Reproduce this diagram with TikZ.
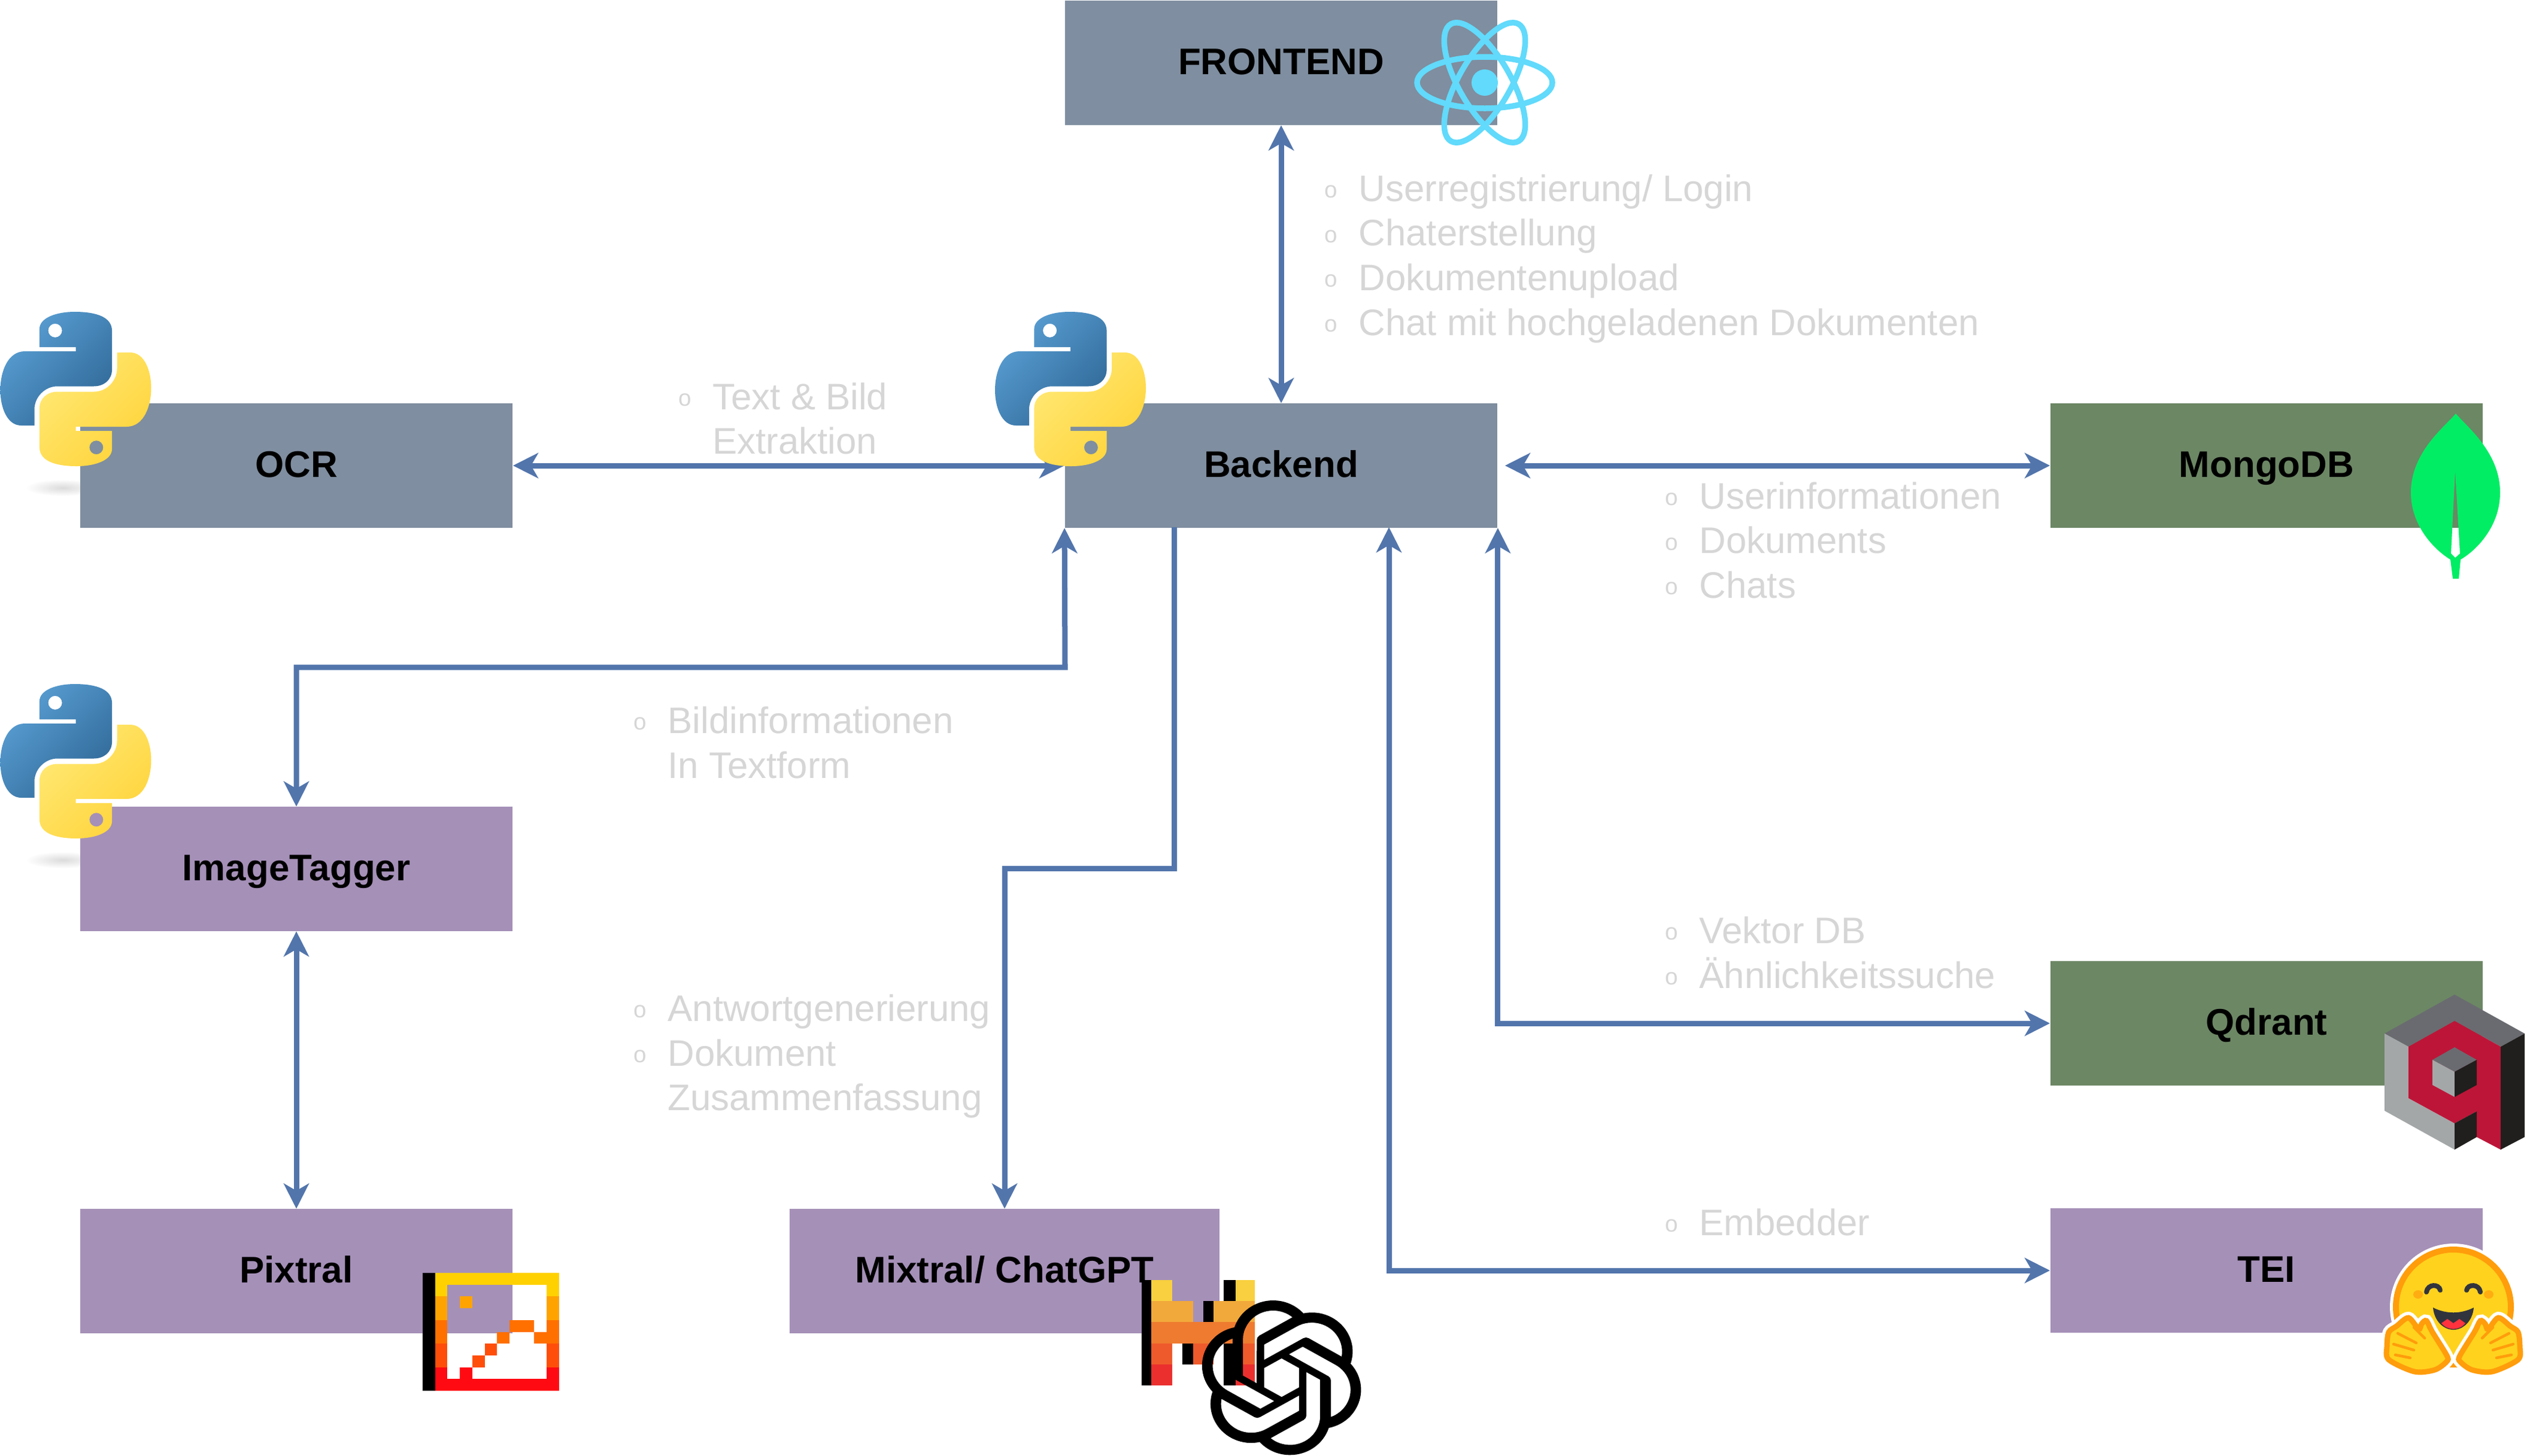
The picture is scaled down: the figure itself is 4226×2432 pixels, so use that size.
\documentclass[tikz,border=0pt]{standalone}
\usepackage{fontspec}
\setmainfont{Liberation Sans}
\usetikzlibrary{arrows.meta,svg.path}
\definecolor{greybox}{HTML}{7F8EA0}
\definecolor{purplebox}{HTML}{A590B8}
\definecolor{greenbox}{HTML}{6C8764}
\definecolor{linkblue}{HTML}{5275AC}
\definecolor{reactblue}{HTML}{61DAFB}
\definecolor{leafgreen}{HTML}{00ED64}
\definecolor{qdark}{HTML}{201F1D}
\definecolor{qgrey}{HTML}{6A6B70}
\definecolor{qlight}{HTML}{A4A7A8}
\definecolor{qred}{HTML}{BD1538}
\definecolor{hugyellow}{HTML}{FFD21E}
\definecolor{hugorange}{HTML}{FF9D0B}
\definecolor{hugdark}{HTML}{32343D}
\definecolor{hugred}{HTML}{FF323D}
\definecolor{pyblueA}{HTML}{5A9FD4}
\definecolor{pyblueB}{HTML}{306998}
\definecolor{pyyellowA}{HTML}{FFE873}
\definecolor{pyyellowB}{HTML}{FFD43B}
\newcommand{\bul}{\makebox[0.57cm][l]{\raisebox{1.6pt}{\fontsize{11}{11}\selectfont o}}}
\newcommand{\nobul}{\makebox[0.57cm][l]{}}
\tikzset{
  block/.style={minimum width=7.22cm,minimum height=2.07cm,inner sep=0pt,text=black,
    text height=0.43cm,text depth=0.05cm,font=\fontsize{17.6}{21}\selectfont\bfseries},
  greyblock/.style={block,fill=greybox},
  purpleblock/.style={block,fill=purplebox},
  greenblock/.style={block,fill=greenbox},
  link/.style={draw=linkblue,line width=0.09cm,
    {Stealth[length=0.42cm,width=0.42cm,inset=0.12cm]}-{Stealth[length=0.42cm,width=0.42cm,inset=0.12cm]}},
  linkto/.style={draw=linkblue,line width=0.09cm,
    -{Stealth[length=0.42cm,width=0.42cm,inset=0.12cm]}},
  note/.style={anchor=north west,inner sep=0pt,align=left,text=black!16,
    font=\fontsize{17.55}{21.2}\selectfont},
  pics/pylogo/.style={code={
    \def\snake{(-60.6,-70) -- (-60.6,-100) .. controls (-60.6,-120) and (-30,-129) .. (-2,-129)
      .. controls (35,-129) and (60.6,-120) .. (60.6,-97) -- (60.6,-33)
      .. controls (60.6,-15) and (47,-4.5) .. (30,-4.5) -- (-30.6,-4.5)
      .. controls (-52,-4.5) and (-69,14) .. (-69,34) -- (-69,61) -- (-91,61)
      .. controls (-115,61) and (-126,30) .. (-126,2)
      .. controls (-126,-30) and (-113,-63) .. (-85,-63) -- (0,-63) -- (0,-70) -- cycle
      (-34.4,-97.7) circle (11.5)}
    \shade[even odd rule,top color=pyblueA,bottom color=pyblueB,shading angle=45] \snake;
    \begin{scope}[rotate=180]
      \shade[even odd rule,top color=pyyellowA,bottom color=pyyellowB,shading angle=45] \snake;
    \end{scope}
  }},
  pics/hughand/.style={code={
    \def\hand{plot[smooth cycle] coordinates {(-11,81) (-35,42) (-45,23) (-53,28) (-58,37) (-75,18)
      (-95,32) (-108,42) (-111,66) (-108,88) (-65,108) (-31,105) (-11,91)}}
    \draw[white,line width=0.2cm] \hand;
    \draw[hugorange,fill=hugyellow,line width=0.09cm] \hand;
    \draw[hugorange,line width=0.045cm,line cap=round] (-93,44) -- (-62,60) (-100,62) -- (-66,72) (-97,80) -- (-72,85) (-66,34) -- (-48,52) (-42,34) -- (-33,46);
  }}
}
\begin{document}
\begin{tikzpicture}[x=0.01cm,y=-0.01cm]
  \useasboundingbox (0,0) rectangle (4226,2432);
  \foreach \y in {815,1437} {
    \shade[inner color=black!14,outer color=white] (105,\y) ellipse (62 and 14);
  }
  \node[greyblock] (frontend) at (2140,105) {FRONTEND};
  \node[greyblock] (backend) at (2140,778) {Backend};
  \node[greyblock] (ocr) at (495,778) {OCR};
  \node[purpleblock] (imagetagger) at (495,1452) {ImageTagger};
  \node[purpleblock] (pixtral) at (495,2124) {Pixtral};
  \node[purpleblock,minimum width=7.18cm] (mixtral) at (1678,2124) {Mixtral/ ChatGPT};
  \node[greenblock] (mongodb) at (3786,778) {MongoDB};
  \node[greenblock] (qdrant) at (3786,1710) {Qdrant};
  \node[purpleblock] (tei) at (3786,2123) {TEI};

  \coordinate (tagbend) at (1779,1115);
  \coordinate (gptport) at (1961,881);
  \coordinate (gptbend) at (1961,1451);
  \coordinate (teiport) at (2320,881);
  \draw[link] (frontend.south) -- (backend.north);
  \draw[link] (ocr.east) -- (backend.west);
  \draw[link,shorten <=0.12cm] (backend.east) -- (mongodb.west);
  \draw[link] (backend.south west) -- (tagbend) -| (imagetagger.north);
  \draw[link] (imagetagger.south) -- (pixtral.north);
  \draw[linkto] (gptport) -- (gptbend) -| (mixtral.north);
  \draw[link] (teiport) |- (tei.west);
  \draw[link] (backend.south east) |- (qdrant.west);

  \node[note] (frontnote) at (2212,291) {\bul Userregistrierung/ Login\\\bul Chaterstellung\\\bul Dokumentenupload\\\bul Chat mit hochgeladenen Dokumenten};
  \node[note] (ocrnote) at (1133,639) {\bul Text \& Bild\\\nobul Extraktion};
  \node[note] (mongonote) at (2781,805) {\bul Userinformationen\\\bul Dokuments\\\bul Chats};
  \node[note] (tagnote) at (1058,1180) {\bul Bildinformationen\\\nobul In Textform};
  \node[note] (gptnote) at (1058,1661) {\bul Antwortgenerierung\\\bul Dokument\\\nobul Zusammenfassung};
  \node[note] (qdrantnote) at (2781,1531) {\bul Vektor DB\\\bul Ähnlichkeitssuche};
  \node[note] (teinote) at (2781,2019) {\bul Embedder};

  % logos
  \foreach \x/\y in {126.5/650,1788/650,126.5/1272} {
    \pic at (\x,\y) {pylogo};
  }
  \foreach \a in {0,60,120} {
    \draw[reactblue,line width=0.095cm] (2480,138) ellipse [x radius=113,y radius=43,rotate=\a];
  }
  \fill[reactblue] (2480,138) circle (22);
  % leaf
  \fill[leafgreen,even odd rule] (4102,691) .. controls (4085,712) and (4027,755) .. (4027,823)
    .. controls (4027,880) and (4068,920) .. (4093,935) -- (4097,967) -- (4107,967) -- (4110,935)
    .. controls (4136,920) and (4176,880) .. (4176,823) .. controls (4176,755) and (4119,712) .. (4102,691) -- cycle
    (4101,787) -- (4094,925) -- (4101,932) -- (4109,925) -- cycle;
  % qdrant
  \fill[qgrey] (3983,1727) -- (4100,1662) -- (4217,1727) -- (4177,1749) -- (4100,1706) -- (4023,1749) -- cycle;
  \fill[qlight] (3983,1727) -- (4023,1749) -- (4023,1835) -- (4100,1877) -- (4100,1921) -- (3983,1856) -- cycle;
  \fill[qred] (4023,1749) -- (4100,1706) -- (4177,1749) -- (4177,1921) -- (4137,1900) -- (4137,1857) -- (4100,1877) -- (4023,1835) -- cycle;
  \fill[qdark] (4177,1749) -- (4217,1727) -- (4217,1900) -- (4177,1921) -- cycle;
  \fill[qdark] (4100,1877) -- (4137,1857) -- (4137,1900) -- (4100,1921) -- cycle;
  \fill[qgrey] (4063,1771) -- (4100,1750) -- (4137,1771) -- (4100,1791) -- cycle;
  \fill[qlight] (4063,1771) -- (4100,1791) -- (4100,1833) -- (4063,1813) -- cycle;
  \fill[qdark] (4100,1791) -- (4137,1771) -- (4137,1813) -- (4100,1833) -- cycle;
  % hugging face
  \begin{scope}[shift={(4098,2184)}]
    \fill[white] (0,0) circle (106);
    \draw[hugorange,fill=hugyellow,line width=0.1cm] (0,0) circle (96);
    \foreach \s in {1,-1} {
      \begin{scope}[xscale=\s]
        \fill[hugorange!70!hugyellow] (-59,-21) ellipse (8 and 7);
        \draw[hugdark,line width=0.08cm,line cap=round] (-45,-25) .. controls (-43,-39) and (-24,-39) .. (-22,-28);
        \pic[transform shape] {hughand};
      \end{scope}
    }
    \fill[hugdark] (-34,1) .. controls (-12,12) and (12,12) .. (34,1) .. controls (32,24) and (16,38) .. (0,38) .. controls (-16,38) and (-32,24) .. (-34,1) -- cycle;
    \fill[hugred] (-20,27) -- (-10,20) -- (0,27) -- (10,20) -- (20,27) .. controls (10,40) and (-10,40) .. (-20,27) -- cycle;
  \end{scope}
  % pixtral pixels
  \begin{scope}[shift={(706,2127)},x=0.207cm,y=-0.197cm]
    \fill[black] (0,0) rectangle (1,10);
    \foreach \xa/\ya/\xb/\yb/\col in {1/0/11/1/FFD100,1/1/2/2/FFD100,10/1/11/2/FFD100,
        1/2/2/4/FFA300,10/2/11/4/FFA300,3/2/4/3/FFA300,
        1/4/2/6/FF7000,10/4/11/6/FF7000,7/4/9/5/FF7000,9/5/10/6/FF7000,6/5/7/6/FF7000,
        1/6/2/8/FF4E0A,10/6/11/8/FF4E0A,5/6/6/7/FF4E0A,4/7/5/8/FF4E0A,
        1/8/2/10/FF0A12,10/8/11/10/FF0A12,2/9/10/10/FF0A12,3/8/4/9/FF0A12} {
      \definecolor{pix}{HTML}{\col}
      \fill[pix] (\xa,\ya) rectangle (\xb,\yb);
    }
  \end{scope}
  % mixtral bars
  \foreach \xa/\ya/\xb/\yb/\col in {1907/2139/1923/2315/000000,
      1923/2139/1958/2174/F9D03F,2064/2139/2096/2174/F9D03F,2044/2139/2064/2174/000000,
      1923/2174/1993/2209/F2A93B,2027/2174/2096/2209/F2A93B,2010/2174/2027/2209/000000,
      1923/2209/2096/2245/EF7B30,
      1923/2245/1958/2280/EE5A2B,1975/2245/1993/2280/000000,1993/2245/2027/2280/EE5A2B,2044/2245/2064/2280/000000,2064/2245/2096/2280/EE5A2B,
      1923/2280/1958/2315/EB2F2F,2044/2280/2064/2315/000000,2064/2280/2096/2315/EB2F2F} {
    \definecolor{bar}{HTML}{\col}
    \fill[bar] (\xa,\ya) rectangle (\xb,\yb);
  }
  % openai knot
  \begin{scope}[shift={(2006,2173)},xscale=3.19,yscale=-3.06]
    \fill[black] svg {M22.2819 9.8211a5.9847 5.9847 0 0 0-.5157-4.9108 6.0462 6.0462 0 0 0-6.5098-2.9A6.0651 6.0651 0 0 0 4.9807 4.1818a5.9847 5.9847 0 0 0-3.9977 2.9 6.0462 6.0462 0 0 0 .7427 7.0966 5.98 5.98 0 0 0 .511 4.9107 6.051 6.051 0 0 0 6.5146 2.9001A5.9847 5.9847 0 0 0 13.2599 24a6.0557 6.0557 0 0 0 5.7718-4.2058 5.9894 5.9894 0 0 0 3.9977-2.9001 6.0557 6.0557 0 0 0-.7475-7.0729z M13.2599 22.4292a4.4755 4.4755 0 0 1-2.8764-1.0408l.1419-.0804 4.7783-2.7582a.7948.7948 0 0 0 .3927-.6813v-6.7369l2.02 1.1686a.071.071 0 0 1 .038.052v5.5826a4.504 4.504 0 0 1-4.4945 4.4944z M3.5992 18.3038a4.4708 4.4708 0 0 1-.5346-3.0137l.142.0852 4.783 2.7582a.7712.7712 0 0 0 .7806 0l5.8428-3.3685v2.3324a.0804.0804 0 0 1-.0332.0615L9.74 19.9502a4.4992 4.4992 0 0 1-6.1408-1.6464zM2.3408 7.8956a4.485 4.485 0 0 1 2.3655-1.9728V11.6a.7664.7664 0 0 0 .3879.6765l5.8144 3.3543-2.0201 1.1685a.0757.0757 0 0 1-.071 0l-4.8303-2.7865A4.504 4.504 0 0 1 2.3408 7.872z M18.9371 11.7514L13.1038 8.364 15.1192 7.2a.0757.0757 0 0 1 .071 0l4.8303 2.7913a4.4944 4.4944 0 0 1-.6765 8.1042v-5.6772a.79.79 0 0 0-.407-.667z M20.9478 8.7283l-.142-.0852-4.7735-2.7818a.7759.7759 0 0 0-.7854 0L9.409 9.2297V6.8974a.0662.0662 0 0 1 .0284-.0615l4.8303-2.7866a4.4992 4.4992 0 0 1 6.6802 4.66zM8.3065 12.863l-2.02-1.1638a.0804.0804 0 0 1-.038-.0567V6.0742a4.4992 4.4992 0 0 1 7.3757-3.4537l-.142.0805L8.704 5.459a.7948.7948 0 0 0-.3927.6813z M9.4041 10.4976l2.602-1.4998 2.6069 1.4998v2.9994l-2.5974 1.4997-2.6067-1.4997Z};
  \end{scope}
\end{tikzpicture}
\end{document}
